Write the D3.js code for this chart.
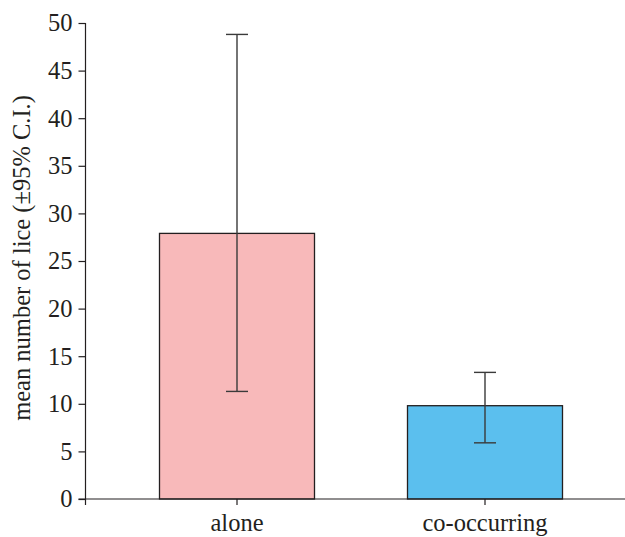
<!DOCTYPE html>
<html>
<head>
<meta charset="utf-8">
<script src="https://cdn.jsdelivr.net/npm/d3@7"></script>
<style>
  body { margin: 0; background: #fff; }
  svg { display: block; }
  svg text { font-family: "Liberation Serif", "Times New Roman", "DejaVu Serif", serif !important; fill: #231f20; }
</style>
</head>
<body>
<svg id="chart" width="625" height="537"></svg>
<script>
const categories = ["alone", "co-occurring"];
const means = [27.9, 9.8];
const ciLow = [11.3, 5.9];
const ciHigh = [48.8, 13.3];
const barColors = ["#f8b9ba", "#5bbfee"];
const yTicks = [0, 5, 10, 15, 20, 25, 30, 35, 40, 45, 50];
const yLabel = "mean number of lice (±95% C.I.)";

const W = 625, H = 537;
const svg = d3.select("#chart");
const axisX = 85.5, y0 = 499, y1 = 23;
const fs = 24.5;

const y = d3.scaleLinear().domain([0, 50]).range([y0, y1]);
const x = d3.scaleBand().domain(categories).range([113, 609])
  .paddingInner(0.375).paddingOuter(0.1875);

const ink = "#231f20";

// bars
svg.selectAll("rect.bar").data(categories).enter().append("rect")
  .attr("class", "bar")
  .attr("x", d => x(d))
  .attr("width", x.bandwidth())
  .attr("y", (d, i) => y(means[i]))
  .attr("height", (d, i) => y(0) - y(means[i]))
  .attr("fill", (d, i) => barColors[i])
  .attr("stroke", ink).attr("stroke-width", 1.3);

// error bars
const cap = 11;
const eb = svg.selectAll("g.eb").data(categories).enter().append("g").attr("class", "eb")
  .attr("stroke", "#3a3a3a").attr("stroke-width", 1.4);
eb.append("line")
  .attr("x1", d => x(d) + x.bandwidth() / 2).attr("x2", d => x(d) + x.bandwidth() / 2)
  .attr("y1", (d, i) => y(ciLow[i])).attr("y2", (d, i) => y(ciHigh[i]));
eb.append("line")
  .attr("x1", d => x(d) + x.bandwidth() / 2 - cap).attr("x2", d => x(d) + x.bandwidth() / 2 + cap)
  .attr("y1", (d, i) => y(ciHigh[i])).attr("y2", (d, i) => y(ciHigh[i]));
eb.append("line")
  .attr("x1", d => x(d) + x.bandwidth() / 2 - cap).attr("x2", d => x(d) + x.bandwidth() / 2 + cap)
  .attr("y1", (d, i) => y(ciLow[i])).attr("y2", (d, i) => y(ciLow[i]));

// y axis
const yAxis = d3.axisLeft(y).tickValues(yTicks).tickSize(7).tickPadding(6).tickSizeOuter(0);
const gy = svg.append("g").attr("transform", `translate(${axisX},0)`).call(yAxis)
  .attr("font-family", null);
gy.select(".domain").remove();
gy.selectAll(".tick line").attr("stroke", ink).attr("stroke-width", 1.2);
gy.selectAll(".tick text").attr("font-size", fs).attr("fill", ink);
svg.append("line").attr("x1", axisX).attr("x2", axisX).attr("y1", y(50)).attr("y2", y0 + 6)
  .attr("stroke", ink).attr("stroke-width", 1.2);

// x axis
const xAxis = d3.axisBottom(x).tickSize(6).tickPadding(9).tickSizeOuter(0);
const gx = svg.append("g").attr("transform", `translate(0,${y0})`).call(xAxis)
  .attr("font-family", null);
gx.select(".domain").remove();
gx.selectAll(".tick line").attr("stroke", ink).attr("stroke-width", 1.2);
gx.selectAll(".tick text").attr("font-size", fs).attr("fill", ink);
svg.append("line").attr("x1", axisX - 7).attr("x2", W).attr("y1", y0).attr("y2", y0)
  .attr("stroke", ink).attr("stroke-width", 1.2);

// y label
svg.append("text")
  .attr("transform", `translate(30,258) rotate(-90)`)
  .attr("text-anchor", "middle")
  .attr("font-size", fs)
  .text(yLabel);
</script>
</body>
</html>
